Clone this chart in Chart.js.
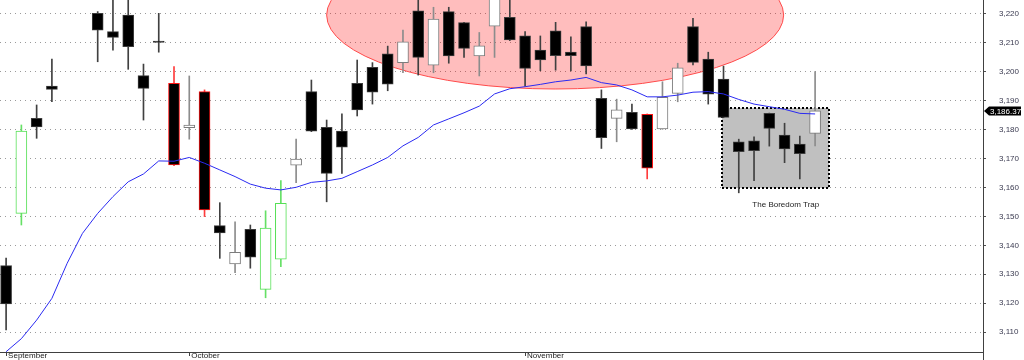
<!DOCTYPE html>
<html>
<head>
<meta charset="utf-8">
<script src="https://cdn.jsdelivr.net/npm/chart.js@4.4.1/dist/chart.umd.min.js"></script>
<style>
  html, body { margin: 0; padding: 0; background: #fff; }
  #wrap { width: 1024px; height: 360px; }
</style>
</head>
<body>
<div id="wrap"><canvas id="chart" width="1024" height="360"></canvas></div>
<script>
// daily bars, left to right. null = the bar is above the visible range
const opens  = [3133.0, 3151.0, 3183.8, 3194.9, null, null, 3220.0, 3213.7, 3219.4, 3198.5,
                3210.4, 3195.9, 3180.6, 3193.0, 3146.8, 3133.6, 3145.5, 3124.8, 3135.2, 3167.6,
                3193.0, 3180.7, 3179.4, 3195.9, 3201.4, 3206.0, 3203.0, 3220.9, 3202.1, 3220.6,
                3216.8, 3205.3, 3215.6, 3218.6, 3212.2, 3207.3, 3214.0, 3206.6, 3215.4, 3190.7,
                3183.8, 3185.9, 3185.2, 3180.1, 3192.4, 3215.4, 3204.2, 3197.3, 3175.7, 3176.0,
                3185.5, 3178.0, 3174.9, 3178.6];
const highs  = [3135.6, 3181.5, 3188.4, 3204.2, null, null, 3220.6, 3226.0, 3227.0, 3202.5,
                3220.0, 3201.6, 3198.4, 3193.6, 3154.7, 3148.1, 3147.0, 3151.9, 3162.3, 3176.6,
                3197.0, 3183.2, 3185.3, 3203.9, 3203.0, 3208.7, 3214.2, 3226.0, 3222.1, 3222.1,
                3216.9, 3213.4, 3229.0, 3226.0, 3213.7, 3212.2, 3216.9, 3211.9, 3217.1, 3193.6,
                3190.4, 3188.7, 3185.3, 3196.4, 3202.8, 3218.3, 3206.6, 3201.8, 3176.6, 3177.4,
                3185.6, 3182.1, 3177.7, 3199.9];
const lows   = [3110.8, 3147.0, 3176.9, 3189.5, null, null, 3203.3, 3207.3, 3200.7, 3183.2,
                3206.6, 3167.5, 3176.6, 3149.9, 3135.5, 3130.6, 3132.1, 3121.9, 3132.6, 3161.6,
                3179.2, 3155.0, 3164.8, 3184.6, 3188.7, 3193.3, 3199.5, 3198.7, 3199.5, 3202.8,
                3204.8, 3198.4, 3204.8, 3210.6, 3194.9, 3200.2, 3200.4, 3200.1, 3199.1, 3173.4,
                3175.7, 3180.0, 3162.9, 3180.0, 3189.5, 3202.2, 3188.7, 3184.0, 3158.1, 3162.3,
                3174.2, 3168.5, 3162.9, 3174.3];
const closes = [3119.8, 3179.4, 3180.8, 3193.8, null, null, 3214.2, 3211.7, 3208.5, 3194.1,
                3210.0, 3167.7, 3181.5, 3152.2, 3144.3, 3137.6, 3135.9, 3145.9, 3154.5, 3169.7,
                3179.4, 3164.8, 3173.8, 3186.7, 3192.8, 3195.6, 3210.2, 3204.8, 3218.0, 3205.3,
                3207.9, 3208.8, 3226.0, 3210.8, 3201.0, 3203.9, 3205.4, 3205.4, 3201.9, 3177.1,
                3186.7, 3180.1, 3166.6, 3191.0, 3201.2, 3203.1, 3192.1, 3184.1, 3172.3, 3172.6,
                3180.3, 3173.2, 3171.6, 3186.37];
// moving average (blue line)
const movAvg = [3103.3, 3107.8, 3114.2, 3121.7, 3133.8, 3144.1, 3151.0, 3156.8, 3161.9, 3164.6,
                3169.1, 3169.0, 3170.3, 3168.3, 3166.0, 3163.7, 3161.1, 3159.7, 3159.1, 3160.0,
                3161.7, 3162.2, 3163.1, 3165.4, 3167.7, 3170.3, 3174.3, 3177.2, 3181.5, 3183.6,
                3185.7, 3188.0, 3192.2, 3194.0, 3194.7, 3195.5, 3196.4, 3197.0, 3197.9, 3196.1,
                3195.3, 3193.6, 3191.2, 3191.2, 3191.8, 3192.8, 3193.0, 3192.2, 3190.3, 3188.7,
                3187.8, 3186.9, 3185.5, 3185.3];

const monthStarts = [0, 12, 34];
const monthNames = ["September", "October", "November"];
const yTicks = [3110, 3120, 3130, 3140, 3150, 3160, 3170, 3180, 3190, 3200, 3210, 3220];

// annotations, in bar index / price units
const topZone = { cx: 35.97, cy: 3219.4, rx: 14.97, ry: 25.5 };
const trap = { x0: 46.93, x1: 53.92, top: 3187.2, bottom: 3159.7, text: "The Boredom Trap", textX: 51.08, textY: 3153.9 };

const WIDE = 17; // bars with a range this big get coloured outlines

const shown = opens.map((o, i) => i).filter(i => opens[i] !== null);
function tone(i) {
  let d = closes[i] - opens[i];
  if (d <= -WIDE) return "red";
  if (d >= WIDE) return "green";
  return d < 0 ? "down" : "up";
}
const bodyFill = { red: "#000", green: "#fff", down: "#000", up: "#fff" };
const bodyLine = { red: "#ff1414", green: "#55e055", down: "#3c3c3c", up: "#7c7c7c" };
const wickCol  = { red: "#ff3c3c", green: "#66e066", down: "#404040", up: "#8c8c8c" };

function noPad(s) {
  s.paddingTop = 0; s.paddingBottom = 0; s.paddingLeft = 0; s.paddingRight = 0;
}

const shapes = {
  id: "shapes",
  beforeDatasetsDraw(chart) {
    const { ctx, chartArea: a, scales: { x, y } } = chart;
    ctx.save();
    ctx.beginPath();
    ctx.rect(a.left, a.top, a.right - a.left, a.bottom - a.top);
    ctx.clip();
    // pink ellipse
    let cx = x.getPixelForValue(topZone.cx), cy = y.getPixelForValue(topZone.cy);
    let rx = x.getPixelForValue(topZone.cx + topZone.rx) - cx;
    let ry = y.getPixelForValue(topZone.cy - topZone.ry) - cy;
    ctx.beginPath();
    ctx.ellipse(cx, cy, rx, ry, 0, 0, Math.PI * 2);
    ctx.fillStyle = "rgba(255,0,0,0.26)";
    ctx.fill();
    ctx.strokeStyle = "#ff4a4a";
    ctx.lineWidth = 1;
    ctx.stroke();
    // grey box
    let l = Math.round(x.getPixelForValue(trap.x0)), r = Math.round(x.getPixelForValue(trap.x1));
    let t = Math.round(y.getPixelForValue(trap.top)), b = Math.round(y.getPixelForValue(trap.bottom));
    ctx.fillStyle = "#c0c0c0";
    ctx.fillRect(l, t, r - l, b - t);
    ctx.setLineDash([2, 2]);
    ctx.lineWidth = 2;
    ctx.strokeStyle = "#000";
    ctx.strokeRect(l, t, r - l, b - t);
    ctx.setLineDash([]);
    ctx.restore();
    ctx.save();
    ctx.fillStyle = "#222";
    ctx.font = "8px 'Liberation Sans', Arial, sans-serif";
    ctx.textAlign = "center";
    ctx.textBaseline = "middle";
    ctx.fillText(trap.text, x.getPixelForValue(trap.textX), y.getPixelForValue(trap.textY));
    ctx.restore();
  },
  afterDraw(chart) {
    const { ctx, chartArea: a, scales: { y } } = chart;
    const last = closes[closes.length - 1];
    const py = Math.round(y.getPixelForValue(last));
    const ax = a.right;
    ctx.save();
    // axis line runs on to the bottom edge
    ctx.strokeStyle = "#404040";
    ctx.lineWidth = 1;
    ctx.beginPath();
    ctx.moveTo(Math.round(ax) + 0.5, a.bottom);
    ctx.lineTo(Math.round(ax) + 0.5, chart.height);
    ctx.stroke();
    // last price tag
    ctx.fillStyle = "#000";
    ctx.beginPath();
    ctx.moveTo(ax + 1, py);
    ctx.lineTo(ax + 6, py - 4.5);
    ctx.lineTo(chart.width - 3, py - 4.5);
    ctx.lineTo(chart.width - 3, py + 4.5);
    ctx.lineTo(ax + 6, py + 4.5);
    ctx.closePath();
    ctx.fill();
    ctx.fillStyle = "#fff";
    ctx.font = "8px 'Liberation Sans', Arial, sans-serif";
    ctx.textBaseline = "middle";
    ctx.fillText(last.toLocaleString("en-US", { minimumFractionDigits: 2 }), ax + 7, py + 0.5);
    ctx.restore();
  }
};

Chart.defaults.font.family = "'Liberation Sans', Arial, sans-serif";
Chart.defaults.font.size = 8;

new Chart(document.getElementById("chart"), {
  type: "bar",
  data: {
    datasets: [
      {
        type: "line",
        label: "MA",
        data: movAvg.map((v, i) => ({ x: i, y: v })),
        borderColor: "#2a2af2",
        borderWidth: 1,
        pointRadius: 0,
        tension: 0,
        order: 0
      },
      {
        label: "body",
        data: shown.map(i => ({ x: i, y: [opens[i], closes[i]] })),
        backgroundColor: shown.map(i => bodyFill[tone(i)]),
        borderColor: shown.map(i => bodyLine[tone(i)]),
        borderWidth: 1,
        borderSkipped: false,
        barThickness: 11,
        grouped: false,
        order: 1
      },
      {
        label: "wick",
        data: shown.map(i => ({ x: i, y: [lows[i], highs[i]] })),
        backgroundColor: shown.map(i => wickCol[tone(i)]),
        borderWidth: 0,
        barThickness: 1,
        grouped: false,
        order: 2
      }
    ]
  },
  options: {
    responsive: false,
    animation: false,
    layout: { padding: 0 },
    plugins: { legend: { display: false }, tooltip: { enabled: false } },
    scales: {
      x: {
        type: "linear",
        min: -0.4,
        max: 64,
        offset: false,
        afterBuildTicks: s => { s.ticks = monthStarts.map(v => ({ value: v })); },
        afterFit: s => { s.height = 8; noPad(s); },
        grid: { offset: false, drawOnChartArea: false, drawTicks: true, tickLength: 4, color: "#404040" },
        border: { color: "#404040", width: 1 },
        ticks: {
          autoSkip: false, maxRotation: 0, align: "start", padding: -5, labelOffset: 2, color: "#222",
          callback: v => monthNames[monthStarts.indexOf(v)]
        }
      },
      y: {
        type: "linear",
        position: "right",
        min: 3103.2,
        max: 3224.6,
        afterBuildTicks: s => { s.ticks = yTicks.map(v => ({ value: v })); },
        afterFit: s => { s.width = 41; noPad(s); },
        grid: { color: "#9a9a9a", lineWidth: 1, tickLength: 3, tickColor: "#505050" },
        border: { color: "#404040", width: 1, dash: [1, 4] },
        ticks: { padding: 13, color: "#3a3a50", callback: v => v.toLocaleString("en-US") }
      }
    }
  },
  plugins: [shapes]
});
</script>
</body>
</html>
